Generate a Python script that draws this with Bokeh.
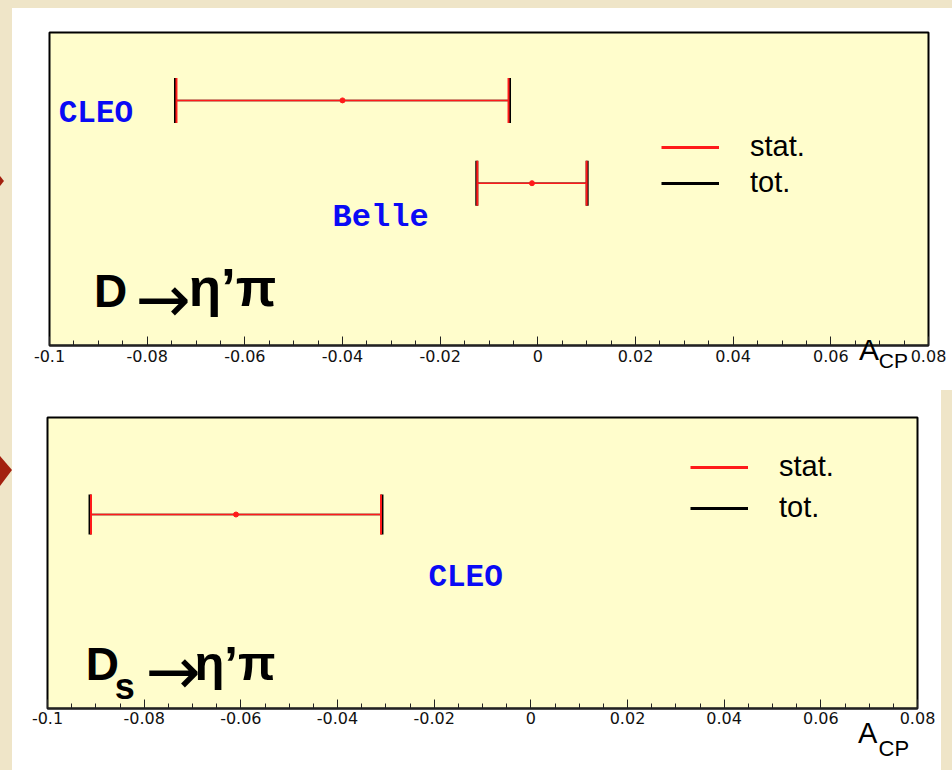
import math
from bokeh.plotting import figure
from bokeh.layouts import column
from bokeh.models import (Range1d, FixedTicker, Legend, LegendItem, Label, LinearAxis)
from bokeh.core.properties import value
from bokeh.embed import file_html
from bokeh.resources import INLINE

# ---------------- data ----------------
tick_values = [-0.1, -0.08, -0.06, -0.04, -0.02, 0.0, 0.02, 0.04, 0.06, 0.08]
tick_labels = ["-0.1", "-0.08", "-0.06", "-0.04", "-0.02", "0", "0.02", "0.04", "0.06", "0.08"]
axis_title = ["A", "CP"]          # A_CP (main letter, subscript)

# D -> eta' pi
d_experiments = ["CLEO", "Belle"]
d_acp = [-0.040, -0.0012]
d_stat = [0.034, 0.0112]
d_tot = [0.0342, 0.0113]
d_row = [3.0, 2.0]

# Ds -> eta' pi
ds_experiments = ["CLEO"]
ds_acp = [-0.061]
ds_stat = [0.030]
ds_tot = [0.0302]
ds_row = [1.0]

legend_labels = ["stat.", "tot."]

# ---------------- style ----------------
PARCH = "#EFE5C8"
FILL = "#FFFDCC"
RED = "#FF1A1A"
BLUE = "#0A0AF5"

minor = [round(-0.1 + 0.005 * i, 4) for i in range(37)]
minor = [m for m in minor if all(abs(m - t) > 1e-9 for t in tick_values)]


def make_panel(width, height, mb, yr, rows, acp, stat, tot, names, cap,
               name_pos, name_size, legend_loc, legend_spacing, standoff):
    p = figure(width=width, height=height, output_backend="svg", toolbar_location=None,
               x_range=Range1d(-0.1, 0.08), y_range=Range1d(*yr),
               y_axis_location=None, min_border_left=mb[0], min_border_right=mb[1],
               min_border_top=mb[2], min_border_bottom=mb[3])
    p.grid.visible = False
    p.background_fill_color = FILL
    p.border_fill_color = "white"
    p.outline_line_color = "black"
    p.outline_line_width = 2
    ax = p.xaxis[0]
    ax.ticker = FixedTicker(ticks=tick_values, minor_ticks=minor)
    ax.major_label_overrides = {t: l for t, l in zip(tick_values, tick_labels)}
    ax.major_tick_in = 9
    ax.major_tick_out = 0
    ax.minor_tick_in = 5
    ax.minor_tick_out = 0
    ax.axis_line_color = "#222222"
    ax.axis_line_width = 2
    ax.major_tick_line_color = "#222222"
    ax.minor_tick_line_color = "#222222"
    ax.major_label_text_font = "DejaVu Sans"
    ax.major_label_text_font_size = "16px"
    ax.major_label_text_color = "#111111"
    ax.major_label_standoff = standoff

    lo_t = [a - e for a, e in zip(acp, tot)]
    hi_t = [a + e for a, e in zip(acp, tot)]
    lo_s = [a - e for a, e in zip(acp, stat)]
    hi_s = [a + e for a, e in zip(acp, stat)]
    # total errors (black, underneath)
    p.segment(x0=lo_t, x1=hi_t, y0=rows, y1=rows, line_color="black", line_width=1.5)
    p.scatter(x=lo_t + hi_t, y=rows + rows, marker="dash", angle=math.pi / 2,
              size=cap, line_color="black", line_width=3)
    # statistical errors (red, on top)
    p.segment(x0=lo_s, x1=hi_s, y0=rows, y1=rows, line_color=RED, line_width=1.5)
    p.scatter(x=lo_s + hi_s, y=rows + rows, marker="dash", angle=math.pi / 2,
              size=cap, line_color=RED, line_width=2)
    p.scatter(x=acp, y=rows, marker="circle", size=5, fill_color=RED, line_color=RED)

    # experiment names
    for (nx, ny), nm, sz in zip(name_pos, names, name_size):
        p.text(x=[nx], y=[ny], text=[nm],
               text_font=value("Liberation Mono"), text_font_style="bold",
               text_font_size=sz, text_color=BLUE, text_align="center",
               text_baseline="middle")

    # legend (sample lines drawn far outside the visible range)
    r1 = p.line(x=[1.0, 1.1], y=[-50, -50], line_color=RED, line_width=3)
    r2 = p.line(x=[1.0, 1.1], y=[-50, -50], line_color="black", line_width=3)
    leg = Legend(items=[LegendItem(label=legend_labels[0], renderers=[r1]),
                        LegendItem(label=legend_labels[1], renderers=[r2])],
                 location=legend_loc, orientation="vertical",
                 glyph_width=58, glyph_height=30, label_height=30,
                 spacing=legend_spacing, label_standoff=31, padding=0, margin=0,
                 border_line_alpha=0, background_fill_alpha=0,
                 label_text_font="Liberation Sans", label_text_font_size="29px",
                 label_text_color="black")
    p.add_layout(leg)
    return p


def lab(p, x, y, text, size, bold=True, font="Liberation Sans"):
    p.add_layout(Label(x=x, y=y, text=text,
                       text_font=font, text_font_style="bold" if bold else "normal",
                       text_font_size=size, text_color="black",
                       text_baseline="alphabetic"))


def unit_axis(p, xpos, text, size, standoff):
    # an extra label-only axis below the main one, used to write the axis title A_CP
    a = LinearAxis(ticker=FixedTicker(ticks=[xpos], minor_ticks=[]),
                   major_label_overrides={xpos: text},
                   axis_line_color=None, major_tick_line_color=None,
                   minor_tick_line_color=None, major_tick_in=0, major_tick_out=0,
                   minor_tick_in=0, minor_tick_out=0,
                   major_label_text_font="Liberation Sans",
                   major_label_text_font_size=size, major_label_text_color="black",
                   major_label_standoff=standoff)
    p.add_layout(a, "below")


p1 = make_panel(940, 382, (37, 24, 24, 45), (0.04, 3.82), d_row, d_acp, d_stat, d_tot,
                d_experiments, 45, [(-0.0905, 2.845), (-0.0322, 1.59)], ["31px", "32px"],
                (612, 146), 3, 4)
lab(p1, -0.0909, 0.702, "D", "46px")
lab(p1, -0.0824, 0.59, "→", "66px", bold=False, font="DejaVu Sans")
lab(p1, -0.0715, 0.738, "η’π", "53px")
unit_axis(p1, 0.0678, axis_title[0], "30px", -32)
unit_axis(p1, 0.0728, axis_title[1], "21px", -20)

p2 = make_panel(929, 380, (35, 24, 27, 62), (0.0, 1.5), ds_row, ds_acp, ds_stat, ds_tot,
                ds_experiments, 40, [(-0.0135, 0.677)], ["31px"], (643, 184), 8, 3)
lab(p2, -0.0921, 0.231, "D", "46px")
lab(p2, -0.0861, 0.111, "s", "36px")
lab(p2, -0.0797, 0.193, "→", "66px", bold=False, font="DejaVu Sans")
lab(p2, -0.0696, 0.237, "η’π", "49px")
unit_axis(p2, 0.0697, axis_title[0], "29px", -10)
unit_axis(p2, 0.0751, axis_title[1], "22px", -16)

p2.margin = (0, 11, 0, 0)
bottom = column(p2, styles={"background": "linear-gradient(to right, white 929px, %s 929px)" % PARCH})
inner = column(p1, bottom, spacing=0, styles={"background-color": "white"})
inner.margin = (8, 0, 0, 12)

# slide decoration: red bullet tips peeking in at the left edge of the page
deco = ("url(\"data:image/svg+xml;utf8,<svg xmlns='http://www.w3.org/2000/svg' width='12' height='770'>"
        "<polygon points='0,176 4,181 0,186' fill='%23A3200F'/>"
        "<polygon points='0,456 12,470 0,486' fill='%23A3200F'/></svg>\")")
page = column(inner, styles={"background-color": PARCH, "background-image": deco,
                             "background-repeat": "no-repeat"})

open("out.html", "w").write(file_html(page, INLINE))
